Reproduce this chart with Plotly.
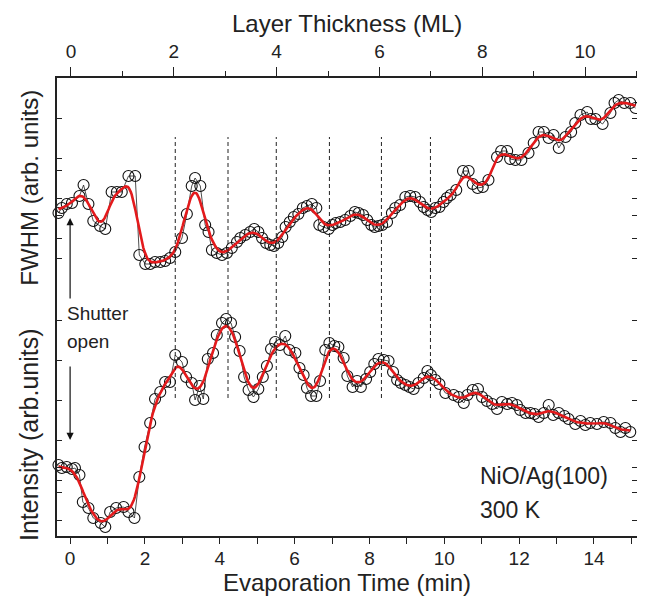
import numpy as np
import plotly.graph_objects as go

# ---------------- data ----------------
fwhm_time = [
    -0.31, -0.22, -0.09, 0.05, 0.25, 0.36, 0.49, 0.62, 0.80, 0.94,
    1.11, 1.25, 1.38, 1.56, 1.74, 1.85, 2.01, 2.14, 2.27, 2.41,
    2.54, 2.67, 2.81, 2.99, 3.12, 3.25, 3.34, 3.48, 3.61, 3.70,
    3.79, 3.92, 4.06, 4.19, 4.32, 4.46, 4.55, 4.68, 4.81, 4.92,
    5.03, 5.13, 5.24, 5.35, 5.45, 5.56, 5.67, 5.76, 5.87, 5.98,
    6.10, 6.22, 6.33, 6.46, 6.58, 6.66, 6.77, 6.91, 7.01, 7.10,
    7.22, 7.35, 7.49, 7.61, 7.71, 7.83, 7.94, 8.05, 8.14, 8.24,
    8.34, 8.47, 8.60, 8.69, 8.82, 8.96, 9.09, 9.22, 9.35, 9.45,
    9.55, 9.65, 9.76, 9.87, 9.98, 10.07, 10.17, 10.32, 10.50, 10.65,
    10.76, 10.89, 11.03, 11.18, 11.41, 11.52, 11.68, 11.76, 11.90, 12.06,
    12.25, 12.39, 12.52, 12.66, 12.79, 12.92, 13.06, 13.24, 13.39, 13.50,
    13.64, 13.82, 13.92, 14.04, 14.23, 14.44, 14.55, 14.66, 14.81, 14.97,
    15.11,
]
fwhm_value = [
    3.23, 3.28, 3.32, 3.33, 3.40, 3.51, 3.32, 3.15, 3.10, 3.07,
    3.44, 3.44, 3.44, 3.60, 3.60, 2.81, 2.72, 2.72, 2.74, 2.74,
    2.75, 2.78, 2.84, 2.98, 3.22, 3.50, 3.58, 3.50, 3.11, 3.04,
    2.86, 2.83, 2.81, 2.83, 2.88, 2.94, 2.98, 3.01, 3.04, 3.07,
    3.04, 2.98, 2.93, 2.91, 2.90, 2.93, 2.99, 3.09, 3.14, 3.19,
    3.22, 3.28, 3.30, 3.32, 3.28, 3.11, 3.09, 3.07, 3.11, 3.13,
    3.14, 3.16, 3.20, 3.24, 3.23, 3.21, 3.16, 3.11, 3.09, 3.10,
    3.11, 3.14, 3.23, 3.28, 3.31, 3.39, 3.40, 3.39, 3.34, 3.29,
    3.26, 3.24, 3.28, 3.29, 3.34, 3.38, 3.41, 3.46, 3.65, 3.65,
    3.52, 3.48, 3.49, 3.56, 3.79, 3.85, 3.85, 3.77, 3.76, 3.76,
    3.83, 3.93, 4.04, 4.04, 3.98, 4.01, 3.88, 3.99, 4.04, 4.13,
    4.21, 4.24, 4.17, 4.17, 4.12, 4.23, 4.33, 4.36, 4.33, 4.33,
    4.28,
]

int_time = [
    -0.31, -0.22, -0.09, 0.05, 0.13, 0.25, 0.34, 0.49, 0.62, 0.82,
    0.94, 1.07, 1.23, 1.43, 1.56, 1.72, 1.85, 1.99, 2.14, 2.27,
    2.41, 2.54, 2.67, 2.81, 2.99, 3.10, 3.25, 3.34, 3.46, 3.56,
    3.68, 3.82, 3.92, 4.06, 4.17, 4.30, 4.41, 4.53, 4.65, 4.77,
    4.90, 5.03, 5.15, 5.26, 5.37, 5.48, 5.61, 5.75, 5.86, 6.02,
    6.13, 6.24, 6.33, 6.44, 6.58, 6.68, 6.82, 6.93, 7.06, 7.17,
    7.31, 7.41, 7.55, 7.67, 7.77, 7.91, 8.02, 8.13, 8.24, 8.38,
    8.51, 8.63, 8.74, 8.84, 8.96, 9.07, 9.18, 9.31, 9.45, 9.55,
    9.64, 9.76, 9.87, 10.03, 10.25, 10.38, 10.52, 10.62, 10.76, 10.90,
    11.01, 11.14, 11.28, 11.41, 11.54, 11.68, 11.81, 11.94, 12.03, 12.17,
    12.30, 12.41, 12.52, 12.66, 12.79, 12.91, 13.06, 13.21, 13.32, 13.50,
    13.64, 13.77, 13.90, 14.08, 14.26, 14.44, 14.57, 14.71, 14.84, 14.97,
]
int_value = [
    0.71, 0.68, 0.69, 0.67, 0.68, 0.61, 0.34, 0.28, 0.18, 0.13,
    0.09, 0.24, 0.28, 0.29, 0.24, 0.18, 0.59, 0.89, 1.13, 1.37,
    1.44, 1.54, 1.54, 1.81, 1.74, 1.59, 1.53, 1.36, 1.50, 1.37,
    1.77, 1.83, 2.01, 2.13, 2.17, 2.13, 1.99, 1.85, 1.59, 1.46,
    1.39, 1.47, 1.59, 1.70, 1.87, 1.94, 1.91, 2.00, 1.86, 1.83,
    1.68, 1.61, 1.48, 1.40, 1.40, 1.55, 1.86, 1.93, 1.90, 1.89,
    1.78, 1.60, 1.49, 1.55, 1.49, 1.57, 1.64, 1.72, 1.77, 1.76,
    1.75, 1.64, 1.56, 1.53, 1.51, 1.49, 1.47, 1.53, 1.58, 1.65,
    1.61, 1.56, 1.52, 1.43, 1.41, 1.39, 1.33, 1.41, 1.46, 1.47,
    1.39, 1.35, 1.32, 1.27, 1.34, 1.32, 1.33, 1.31, 1.26, 1.23,
    1.23, 1.22, 1.19, 1.23, 1.31, 1.21, 1.23, 1.20, 1.17, 1.12,
    1.15, 1.11, 1.13, 1.12, 1.14, 1.13, 1.08, 1.04, 1.08, 1.04,
]

layer_times = [2.81, 4.22, 5.51, 6.93, 8.32, 9.63]   # dashed markers (min)
x_range = [-0.35, 15.15]          # Evaporation time (min)
ml_range = [-0.272, 11.01]        # Layer thickness (ML)
y_range = [0.0, 4.58]
y_ticks = [4.18, 3.78, 3.66, 3.38, 3.21, 2.98, 2.78, 2.16, 1.76, 1.36, 0.96, 0.69, 0.56, 0.44, 0.16]
dash_span = [1.38, 3.99]

FONT = "Liberation Sans, Arial, sans-serif"
RED = "#e31a1c"


def smooth(t, v, sigma=0.16, n=600):
    t = np.asarray(t, float)
    v = np.asarray(v, float)
    g = np.linspace(t.min(), t.max(), n)
    w = np.exp(-0.5 * ((g[:, None] - t[None, :]) / sigma) ** 2)
    return g, (w * v).sum(1) / w.sum(1)


fig = go.Figure()

for t, v in [(fwhm_time, fwhm_value), (int_time, int_value)]:
    fig.add_trace(go.Scatter(
        x=t, y=v, mode="lines+markers",
        line=dict(color="#222222", width=0.8),
        marker=dict(symbol="circle-open", size=11, color="#111111", line=dict(width=1.1)),
        showlegend=False, cliponaxis=False,
    ))
    gx, gy = smooth(t, v)
    fig.add_trace(go.Scatter(
        x=gx, y=gy, mode="lines", line=dict(color=RED, width=2.6),
        showlegend=False,
    ))

# invisible trace for the top (layer thickness) axis
fig.add_trace(go.Scatter(x=[0], y=[0], xaxis="x2", mode="markers",
                         marker=dict(opacity=0), showlegend=False, hoverinfo="skip"))

for lt in layer_times:
    fig.add_shape(type="line", xref="x", yref="y", x0=lt, x1=lt,
                  y0=dash_span[0], y1=dash_span[1],
                  line=dict(color="#222222", width=1, dash="4px,3px"))

TXT = dict(color="#222", family=FONT)
ann = []
ann.append(dict(x=0.0, y=3.18, ax=0.0, ay=2.36, xref="x", yref="y", axref="x", ayref="y",
                text="", showarrow=True, arrowhead=2, arrowsize=1.2, arrowwidth=1.2, arrowcolor="#111"))
ann.append(dict(x=0.0, y=0.96, ax=0.0, ay=1.71, xref="x", yref="y", axref="x", ayref="y",
                text="", showarrow=True, arrowhead=2, arrowsize=1.2, arrowwidth=1.2, arrowcolor="#111"))
ann.append(dict(x=-0.13, y=2.23, xref="x", yref="y", text="Shutter", showarrow=False,
                xanchor="left", yanchor="middle", font=dict(size=19, **TXT)))
ann.append(dict(x=-0.13, y=1.95, xref="x", yref="y", text="open", showarrow=False,
                xanchor="left", yanchor="middle", font=dict(size=19, **TXT)))
ann.append(dict(x=10.90, y=0.60, xref="x", yref="y", text="NiO/Ag(100)", showarrow=False,
                xanchor="left", yanchor="middle", font=dict(size=23, **TXT)))
ann.append(dict(x=10.90, y=0.265, xref="x", yref="y", text="300 K", showarrow=False,
                xanchor="left", yanchor="middle", font=dict(size=23, **TXT)))
ann.append(dict(x=-0.047, y=0.76, xref="paper", yref="paper", text="FWHM (arb. units)",
                textangle=-90, showarrow=False, xanchor="center", yanchor="middle",
                font=dict(size=24, **TXT)))
ann.append(dict(x=-0.047, y=0.222, xref="paper", yref="paper", text="Intensity (arb.units)",
                textangle=-90, showarrow=False, xanchor="center", yanchor="middle",
                font=dict(size=25, **TXT)))
# axis titles placed explicitly
ann.append(dict(x=0.5, y=-0.102, xref="paper", yref="paper", text="Evaporation Time (min)",
                showarrow=False, xanchor="center", yanchor="middle", font=dict(size=24, **TXT)))
ann.append(dict(x=0.5, y=1.1528, xref="paper", yref="paper", text="Layer Thickness (ML)",
                showarrow=False, xanchor="center", yanchor="top", font=dict(size=24, **TXT)))

axis_common = dict(showline=True, linecolor="#222", linewidth=1.7, showgrid=False,
                   zeroline=False, tickcolor="#222", tickwidth=1.2, automargin=False,
                   tickfont=dict(size=19, color="#222", family=FONT))

# page body has an 8 px default margin -> figure shrunk and offset to compensate
fig.update_layout(
    width=637, height=600,
    margin=dict(l=49, r=8, t=70, b=72),
    plot_bgcolor="white", paper_bgcolor="white",
    font=dict(family=FONT, color="#222"),
    annotations=ann,
    xaxis=dict(range=x_range, tickmode="linear", tick0=0, dtick=2, ticks="outside", ticklen=6,
               ticklabelstandoff=-2,
               minor=dict(dtick=1, tick0=0, ticks="outside", ticklen=6, tickcolor="#222", tickwidth=1.2),
               **axis_common),
    xaxis2=dict(range=ml_range, overlaying="x", side="top", tickmode="linear", tick0=0, dtick=2,
                ticks="outside", ticklen=9, ticklabelstandoff=2,
                minor=dict(dtick=1, tick0=0, ticks="outside", ticklen=5, tickcolor="#222", tickwidth=1.2),
                **axis_common),
    yaxis=dict(range=y_range, tickmode="array", tickvals=y_ticks, showticklabels=False,
               ticks="inside", ticklen=5, mirror="ticks", **axis_common),
)

fig.write_html("out.html")
